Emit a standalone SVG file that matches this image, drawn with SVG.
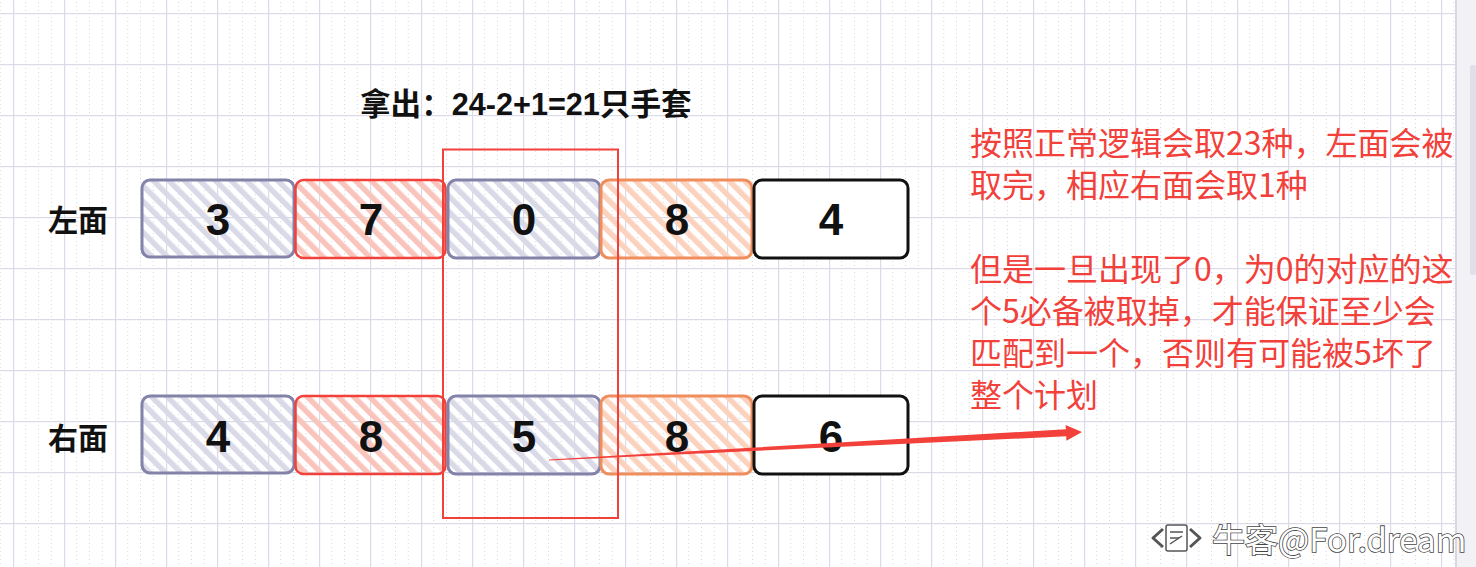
<svg xmlns="http://www.w3.org/2000/svg" width="1476" height="567" viewBox="0 0 1476 567">
<style>
.num{font-family:"Liberation Sans",Arial,sans-serif;font-weight:bold;font-size:44px;fill:#111;text-anchor:middle}
.lbl{font-family:"Liberation Sans","Noto Sans CJK SC",sans-serif;font-weight:bold;font-size:30px;fill:#111}
.ttl{font-family:"Liberation Sans","Noto Sans CJK SC",sans-serif;font-weight:bold;font-size:30.6px;fill:#111}
.note{font-family:"Noto Sans CJK SC",sans-serif;font-size:32px;fill:#f2403a}
.wm{font-family:"Noto Sans CJK SC",sans-serif;font-size:33px;fill:#fff;stroke:#444;stroke-width:1.6;paint-order:stroke}
.bx{stroke-width:3;stroke-linejoin:round}
.blue{stroke:#8383aa;fill:url(#hBlue)}
.red{stroke:#f2403a;fill:url(#hRed);stroke-width:2.5}
.orange{stroke:#ef8e5c;fill:url(#hOrange)}
.black{stroke:#111;fill:#fff}
</style>
<defs>
<pattern id="grid" x="13" y="13" width="51" height="51" patternUnits="userSpaceOnUse">
<line x1="12.75" y1="0" x2="12.75" y2="51" stroke="#d6d6e2" stroke-width="1" stroke-dasharray="1 3"/>
<line x1="25.5" y1="0" x2="25.5" y2="51" stroke="#d6d6e2" stroke-width="1" stroke-dasharray="1 3"/>
<line x1="38.25" y1="0" x2="38.25" y2="51" stroke="#d6d6e2" stroke-width="1" stroke-dasharray="1 3"/>
<rect x="0" y="0" width="1.2" height="51" fill="#dcdae8"/>
<rect x="0" y="0" width="51" height="1.2" fill="#dcdae8"/>
</pattern>
<pattern id="hBlue" width="11" height="11" patternUnits="userSpaceOnUse" patternTransform="rotate(-45)">
<rect x="0" y="0" width="5.5" height="11" fill="#d9d9e7"/>
</pattern>
<pattern id="hRed" width="11" height="11" patternUnits="userSpaceOnUse" patternTransform="rotate(-45)">
<rect x="0" y="0" width="5.5" height="11" fill="#f9c4bb"/>
</pattern>
<pattern id="hOrange" width="11" height="11" patternUnits="userSpaceOnUse" patternTransform="rotate(-45)">
<rect x="0" y="0" width="5.5" height="11" fill="#fbd2be"/>
</pattern>
</defs>

<g id="background">
<rect width="1476" height="567" fill="#fff"/>
<rect width="1455" height="567" fill="url(#grid)"/>
<rect x="1455" y="0" width="21" height="567" fill="#f2f1f6"/>
<rect x="1455" y="0" width="2" height="567" fill="#d8d7e2"/>
<rect x="1470" y="65" width="6" height="210" rx="2" fill="#e1e0ea"/>
</g>

<g id="title">
<text class="ttl" x="360" y="115">拿出：24-2+1=21只手套</text>
</g>

<g id="label-left"><text class="lbl" x="48" y="231">左面</text></g>
<g id="label-right"><text class="lbl" x="48" y="449">右面</text></g>

<g id="top-3"><rect class="bx blue" x="142" y="180" width="152" height="77" rx="8"/><text class="num" x="218" y="235">3</text></g>
<g id="top-7"><rect class="bx red" x="295.5" y="180" width="150" height="78" rx="8"/><text class="num" x="371" y="235">7</text></g>
<g id="top-0"><rect class="bx blue" x="448" y="180" width="152" height="78" rx="8"/><text class="num" x="524" y="235">0</text></g>
<g id="top-8"><rect class="bx orange" x="601" y="180" width="151" height="78" rx="8"/><text class="num" x="677" y="235">8</text></g>
<g id="top-4"><rect class="bx black" x="754" y="180" width="154" height="78" rx="8"/><text class="num" x="831" y="235">4</text></g>

<g id="bottom-4"><rect class="bx blue" x="142" y="396" width="152" height="77" rx="8"/><text class="num" x="218" y="452">4</text></g>
<g id="bottom-8a"><rect class="bx red" x="295.5" y="396" width="150" height="78" rx="8"/><text class="num" x="371" y="452">8</text></g>
<g id="bottom-5"><rect class="bx blue" x="448" y="396" width="152" height="78" rx="8"/><text class="num" x="524" y="452">5</text></g>
<g id="bottom-8b"><rect class="bx orange" x="601" y="396" width="151" height="78" rx="8"/><text class="num" x="677" y="452">8</text></g>
<g id="bottom-6"><rect class="bx black" x="754" y="396" width="154" height="78" rx="8"/><text class="num" x="831" y="452">6</text></g>

<g id="highlight">
<rect x="443" y="149.5" width="175" height="368.5" fill="none" stroke="#f2403a" stroke-width="2"/>
</g>

<g id="note">
<text class="note" x="970"><tspan x="970" y="155">按照正常逻辑会取23种，左面会被</tspan><tspan x="970" y="197">取完，相应右面会取1种</tspan><tspan x="970" y="281">但是一旦出现了0，为0的对应的这</tspan><tspan x="970" y="323">个5必备被取掉，才能保证至少会</tspan><tspan x="970" y="365">匹配到一个，否则有可能被5坏了</tspan><tspan x="970" y="407">整个计划</tspan></text>
</g>

<g id="connectors">
<polygon points="549,460.5 1066.2,436.3 1066.4,440.8 1082,432 1065.6,424.9 1065.9,429.3 549,459.5" fill="#f2403a"/>
</g>

<g id="watermark">
<g fill="#fff" stroke="#555" stroke-width="1.5" stroke-linejoin="round">
<polyline points="1163,529 1153,538 1163,547" fill="none" stroke-width="3"/>
<polyline points="1190,529 1200,538 1190,547" fill="none" stroke-width="3"/>
<rect x="1166" y="525" width="21" height="26" rx="2"/>
<line x1="1170" y1="532" x2="1183" y2="532"/>
<line x1="1170" y1="538" x2="1179" y2="538"/>
<line x1="1170" y1="544" x2="1182" y2="536"/>
</g>
<text class="wm" x="1212" y="552">牛客@For.dream</text>
</g>
</svg>
